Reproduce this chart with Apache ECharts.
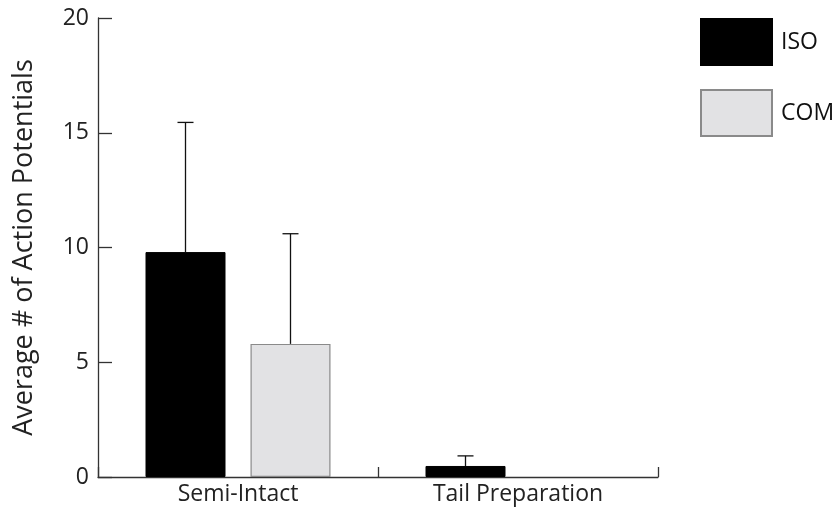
<!DOCTYPE html>
<html>
<head>
<meta charset="utf-8">
<script src="https://cdn.jsdelivr.net/npm/echarts@6/dist/echarts.min.js"></script>
<style>html,body{margin:0;padding:0;background:#fff;}#c{width:834px;height:513px;}</style>
</head>
<body>
<div id="c"></div>
<script>
const categories = ['Semi-Intact', 'Tail Preparation'];
const seriesNames = ['ISO', 'COM'];
const isoValues = [9.8, 0.48];
const comValues = [5.8, 0];
const isoUpper = [15.45, 0.92];
const comUpper = [10.6, null];
const yTicks = [0, 5, 10, 15, 20];

const FONT = 'Open Sans';
const BAR_W = 80;
const GAP = 25;
const OFF = BAR_W / 2 + GAP / 2;

function errData(vals, ups) {
  const out = [];
  vals.forEach((v, i) => { if (ups[i] != null) out.push([i, v, ups[i]]); });
  return out;
}
function barData(vals) {
  return vals.map(v => (v === 0 ? { value: 0, itemStyle: { borderWidth: 0, opacity: 0 } } : v));
}
function errRender(offset) {
  return function (params, api) {
    const i = api.value(0);
    const base = api.coord([i, api.value(1)]);
    const top = api.coord([i, api.value(2)]);
    const cx = base[0] + offset;
    const st = { stroke: '#111', lineWidth: 1.3 };
    return {
      type: 'group',
      children: [
        { type: 'line', shape: { x1: cx, y1: base[1], x2: cx, y2: top[1] }, style: st },
        { type: 'line', shape: { x1: cx - 8, y1: top[1], x2: cx + 8, y2: top[1] }, style: st }
      ]
    };
  };
}

const chart = echarts.init(document.getElementById('c'), null, { renderer: 'canvas' });
chart.setOption({
  animation: false,
  backgroundColor: '#fff',
  textStyle: { fontFamily: FONT },
  grid: { left: 98, right: 176, top: 18, bottom: 36, containLabel: false },
  legend: {
    data: seriesNames,
    orient: 'vertical',
    left: 700,
    top: 18,
    padding: 0,
    itemWidth: 71,
    itemHeight: 46,
    itemGap: 23,
    icon: 'rect',
    textStyle: { fontFamily: FONT, fontSize: 23, color: '#111', padding: [0, 0, 0, 4] }
  },
  xAxis: {
    type: 'category',
    data: categories,
    boundaryGap: true,
    axisLine: { lineStyle: { color: '#333', width: 1.3 } },
    axisTick: { show: true, inside: true, length: 10, lineStyle: { color: '#333', width: 1.3 } },
    axisLabel: { fontFamily: FONT, fontSize: 23, color: '#222', margin: 6 }
  },
  yAxis: {
    type: 'value',
    min: 0,
    max: 20,
    interval: 5,
    name: 'Average # of Action Potentials',
    nameLocation: 'middle',
    nameGap: 60,
    nameRotate: 90,
    nameTextStyle: { fontFamily: FONT, fontSize: 27, color: '#222' },
    splitLine: { show: false },
    axisLine: { show: true, lineStyle: { color: '#333', width: 1.3 } },
    axisTick: { show: true, inside: true, length: 14, lineStyle: { color: '#333', width: 1.3 } },
    axisLabel: { fontFamily: FONT, fontSize: 23, color: '#222', margin: 9,
      formatter: v => (yTicks.indexOf(v) >= 0 ? String(v) : '') }
  },
  series: [
    {
      name: 'ISO', type: 'bar', data: barData(isoValues), barWidth: BAR_W, barGap: (GAP / BAR_W * 100) + '%',
      itemStyle: { color: '#000', borderColor: '#000', borderWidth: 1 }
    },
    {
      name: 'COM', type: 'bar', data: barData(comValues), barWidth: BAR_W,
      itemStyle: { color: '#e2e2e4', borderColor: '#8a8a8a', borderWidth: 1.2 }
    },
    {
      type: 'custom', name: 'isoErr', data: errData(isoValues, isoUpper),
      encode: { x: 0, y: [1, 2] }, renderItem: errRender(-OFF), z: 5, silent: true
    },
    {
      type: 'custom', name: 'comErr', data: errData(comValues, comUpper),
      encode: { x: 0, y: [1, 2] }, renderItem: errRender(OFF), z: 5, silent: true
    }
  ]
});
</script>
</body>
</html>
